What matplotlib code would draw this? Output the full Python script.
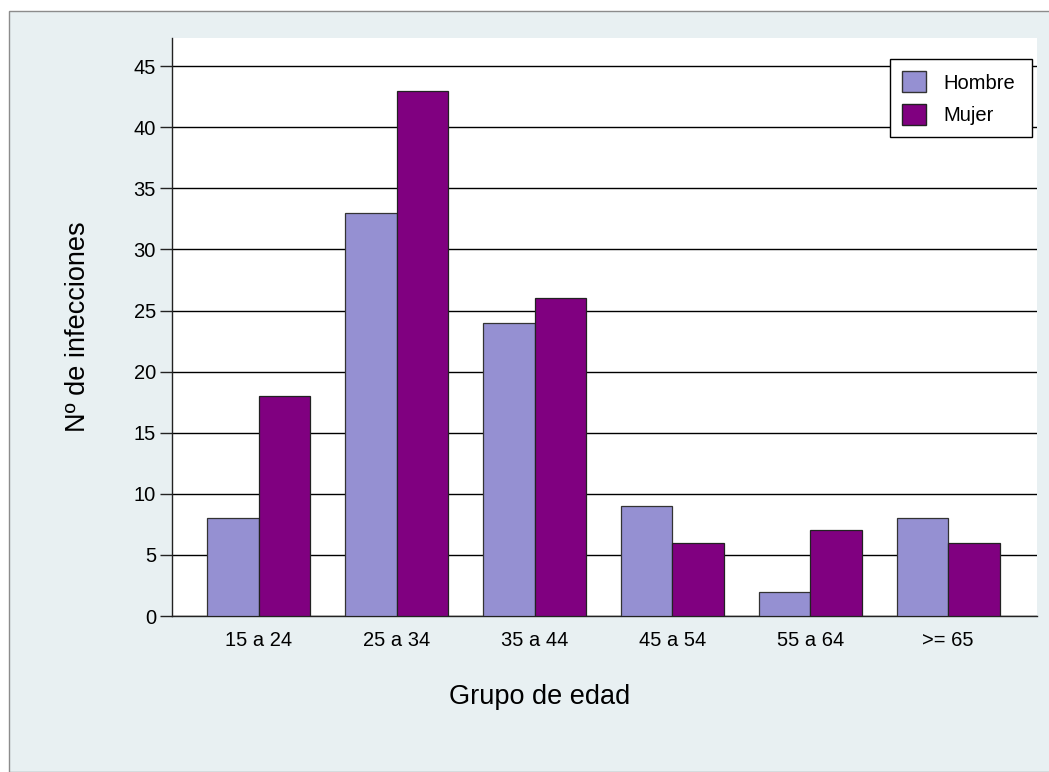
import matplotlib
matplotlib.use("Agg")
import matplotlib.pyplot as plt
import numpy as np
from matplotlib.patches import Rectangle, Patch

plt.rcParams['font.family'] = ['Liberation Sans', 'DejaVu Sans']

grupos = ["15 a 24", "25 a 34", "35 a 44", "45 a 54", "55 a 64", ">= 65"]
hombre = [8, 33, 24, 9, 2, 8]
mujer = [18, 43, 26, 6, 7, 6]
yticks = [0, 5, 10, 15, 20, 25, 30, 35, 40, 45]

color_h = "#9590D2"
color_m = "#800080"
fondo = "#E8F0F2"

fig = plt.figure(figsize=(10.49, 7.72), dpi=100)
fig.patch.set_facecolor("white")
# panel background with gray frame
fig.patches.append(Rectangle((8.5 / 1049, 0), 1.0, 1 - 11 / 772,
                             transform=fig.transFigure, facecolor=fondo,
                             edgecolor="#8C8C8C", linewidth=1.0, zorder=-10))

ax = fig.add_axes([172 / 1049, 1 - 616 / 772, (1037 - 172) / 1049, (616 - 38) / 772])
ax.set_facecolor("white")

x = np.arange(len(grupos))
w = 0.373
ax.bar(x - w / 2, hombre, width=w, color=color_h, edgecolor="#333333", linewidth=0.9, zorder=3)
ax.bar(x + w / 2, mujer, width=w, color=color_m, edgecolor="#222222", linewidth=0.9, zorder=3)

ax.set_xlim(-0.63, 5.645)
ax.set_ylim(0, 47.3)
ax.set_yticks(yticks)
ax.set_xticks(x)
ax.set_xticklabels(grupos)
ax.yaxis.grid(True, color="black", linewidth=1.0, zorder=0)
ax.set_axisbelow(True)

for s in ["top", "right"]:
    ax.spines[s].set_visible(False)
for s in ["left", "bottom"]:
    ax.spines[s].set_color("#222222")
    ax.spines[s].set_linewidth(1.0)

ax.tick_params(axis="y", length=8.6, width=1.0, pad=3, labelsize=14.5, color="#222222")
ax.tick_params(axis="x", length=0, pad=11, labelsize=14.5)

ax.set_ylabel("Nº de infecciones", fontsize=19.5)
ax.yaxis.label.set_va("center")
ax.yaxis.label.set_ha("center")
ax.yaxis.set_label_coords((78 - 172) / 865, 0.5)

ax.set_xlabel("Grupo de edad", fontsize=19.5)
ax.xaxis.label.set_va("center")
ax.xaxis.label.set_ha("center")
ax.xaxis.set_label_coords((540 - 172) / 865, (616 - 697) / 578)

handles = [Patch(facecolor=color_h, edgecolor="#333333", label="Hombre"),
           Patch(facecolor=color_m, edgecolor="#222222", label="Mujer")]
leg = ax.legend(handles=handles, loc="upper left", mode="expand",
                bbox_to_anchor=(890 / 1049, 1 - 138 / 772, 142 / 1049, 79 / 772),
                bbox_transform=fig.transFigure, fontsize=14.5, frameon=True, fancybox=False,
                edgecolor="black", framealpha=1, handlelength=1.2, handleheight=1.25,
                borderpad=0.6, labelspacing=0.55, handletextpad=0.85, borderaxespad=0)
leg.get_frame().set_linewidth(1.0)
leg.set_zorder(5)

fig.savefig("out.png", dpi=100, facecolor=fig.get_facecolor())
